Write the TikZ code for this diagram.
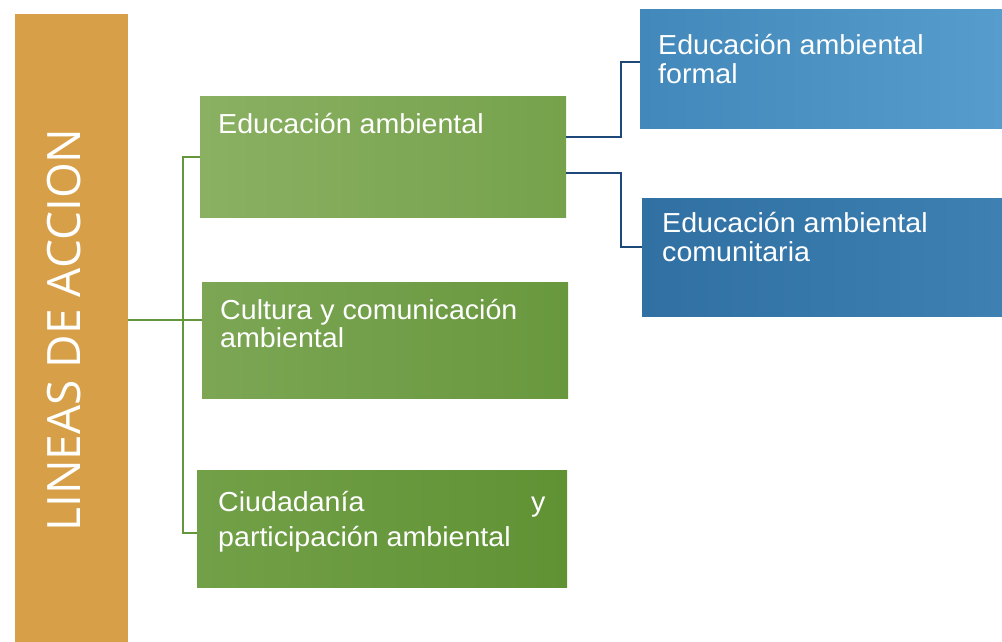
\documentclass[tikz,border=0pt]{standalone}
\usepackage{fontspec}
\setmainfont{Liberation Sans}
\newfontfamily\boxfont{Liberation Sans}[FakeStretch=1.04]
\newfontfamily\barfont{Open Sans}
\definecolor{barorange}{RGB}{215,160,72}
\definecolor{gA1}{RGB}{138,176,98}
\definecolor{gA2}{RGB}{118,162,76}
\definecolor{gB1}{RGB}{124,166,84}
\definecolor{gB2}{RGB}{104,152,62}
\definecolor{gC1}{RGB}{114,160,72}
\definecolor{gC2}{RGB}{96,146,52}
\definecolor{bA1}{RGB}{66,136,186}
\definecolor{bA2}{RGB}{86,156,204}
\definecolor{bB1}{RGB}{48,112,162}
\definecolor{bB2}{RGB}{62,128,178}
\definecolor{glinec}{RGB}{100,150,60}
\definecolor{blinec}{RGB}{30,72,122}
\tikzset{
  boxbase/.style={draw=none, inner sep=0pt, outer sep=0pt, anchor=north west},
  txt/.style={text=white, inner sep=0pt, anchor=base west, font=\boxfont\fontsize{27.5}{29}\selectfont},
  gline/.style={draw=glinec, line width=1.8pt},
  bline/.style={draw=blinec, line width=1.8pt}
}
\begin{document}
\begin{tikzpicture}[x=1pt,y=-1pt]
\useasboundingbox (0,0) rectangle (1002,642);
\fill[white] (0,0) rectangle (1002,642);
% left bar
\node[boxbase, fill=barorange, minimum width=113pt, minimum height=628pt] (bar) at (15,14) {};
\node[rotate=90, text=white, inner sep=0pt, font=\barfont\fontsize{46}{46}\selectfont] (bartext) at (64.5,330) {LINEAS DE ACCION};
% green boxes
\node[boxbase, left color=gA1, right color=gA2, minimum width=366pt, minimum height=120pt] (box1) at (200,97) {};
\node[boxbase, left color=gB1, right color=gB2, minimum width=366pt, minimum height=116pt] (box2) at (202,282) {};
\node[boxbase, left color=gC1, right color=gC2, minimum width=370pt, minimum height=117pt] (box3) at (197,470) {};
% blue boxes
\node[boxbase, left color=bA1, right color=bA2, minimum width=362pt, minimum height=118pt] (boxA) at (640,10) {};
\node[boxbase, left color=bB1, right color=bB2, minimum width=360pt, minimum height=118pt] (boxB) at (642,198) {};
% texts
\node[txt] (t1) at (218,133) {Educación ambiental};
\node[txt] (t2a) at (220,319) {Cultura y comunicación};
\node[txt] (t2b) at (220,347) {ambiental};
\node[txt] (t3a) at (218,511) {Ciudadanía};
\node[txt] (t3y) at (531,511) {y};
\node[txt] (t3b) at (218,546) {participación ambiental};
\node[txt] (tAa) at (658,55) {Educación ambiental};
\node[txt] (tAb) at (658,84) {formal};
\node[txt] (tBa) at (662,232) {Educación ambiental};
\node[txt] (tBb) at (662,261) {comunitaria};
% connector anchor points
\coordinate (c2) at ([yshift=20pt]box2.west);
\coordinate (c3) at ([yshift=-4.5pt]box3.west);
\coordinate (c1a) at ([yshift=20pt]box1.east);
\coordinate (c1b) at ([yshift=-16pt]box1.east);
\coordinate (cA) at ([yshift=7pt]boxA.west);
\coordinate (cB) at ([yshift=10pt]boxB.west);
% green connectors
\draw[gline] (bar.east |- c2) -- (c2);
\draw[gline] (box1.west) -- ++(-17,0) |- (c3);
% blue connectors
\draw[bline] (c1a) -- ++(55,0) |- (cA);
\draw[bline] (c1b) -- ++(55,0) |- (cB);
\end{tikzpicture}
\end{document}
